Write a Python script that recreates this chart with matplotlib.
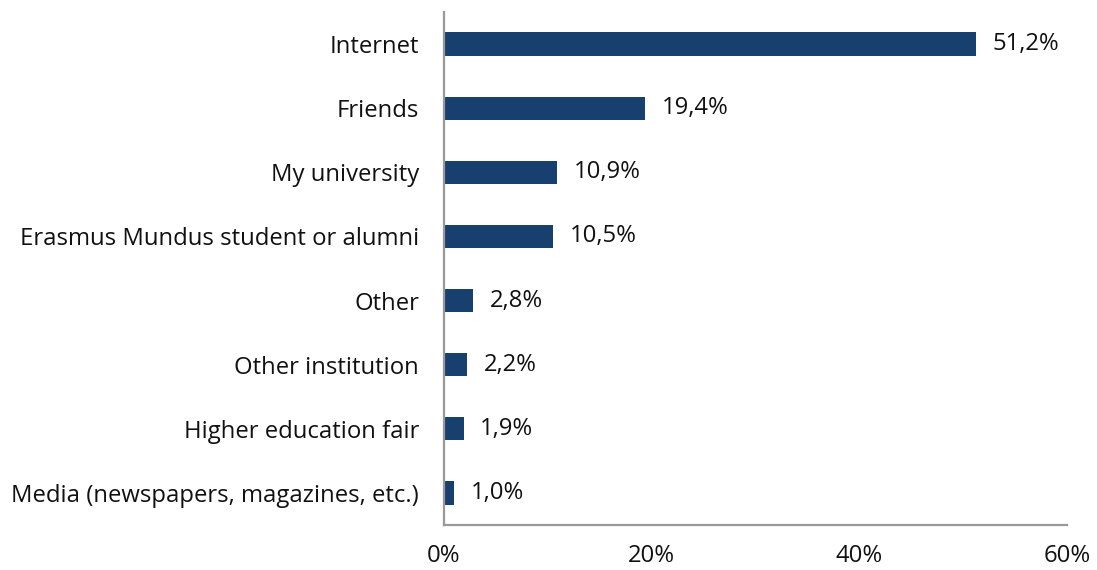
import matplotlib.pyplot as plt
from matplotlib.ticker import FuncFormatter

categories = ['Internet', 'Friends', 'My university', 'Erasmus Mundus student or alumni',
              'Other', 'Other institution', 'Higher education fair',
              'Media (newspapers, magazines, etc.)']
values = [51.2, 19.4, 10.9, 10.5, 2.8, 2.2, 1.9, 1.0]
value_labels = ['51,2%', '19,4%', '10,9%', '10,5%', '2,8%', '2,2%', '1,9%', '1,0%']
x_ticks = [0, 20, 40, 60]

plt.rcParams['font.family'] = ['Open Sans', 'DejaVu Sans']
fs = 17.2

fig = plt.figure(figsize=(10.97, 5.70), dpi=100)
ax = fig.add_axes([0.4047, 0.0789, 0.568, 0.9001])

ypos = list(range(len(categories)))
ax.barh(ypos, values, height=0.36, color='#17406f')

for y, v, lab in zip(ypos, values, value_labels):
    ax.text(v + 1.6, y, lab, va='center', ha='left', fontsize=fs, color='#111111')

ax.set_ylim(len(categories) - 0.5, -0.5)
ax.set_xlim(0, 60)
ax.set_yticks(ypos)
ax.set_yticklabels(categories, fontsize=fs, color='#111111')
ax.set_xticks(x_ticks)
ax.xaxis.set_major_formatter(FuncFormatter(lambda v, p: f'{v:.0f}%'))
ax.tick_params(axis='x', length=0, pad=14, labelsize=fs, labelcolor='#111111')
ax.tick_params(axis='y', length=0, pad=18)

for s in ['top', 'right']:
    ax.spines[s].set_visible(False)
for s in ['left', 'bottom']:
    ax.spines[s].set_color('#999999')
    ax.spines[s].set_linewidth(1.6)

fig.savefig('out.png', dpi=100)
